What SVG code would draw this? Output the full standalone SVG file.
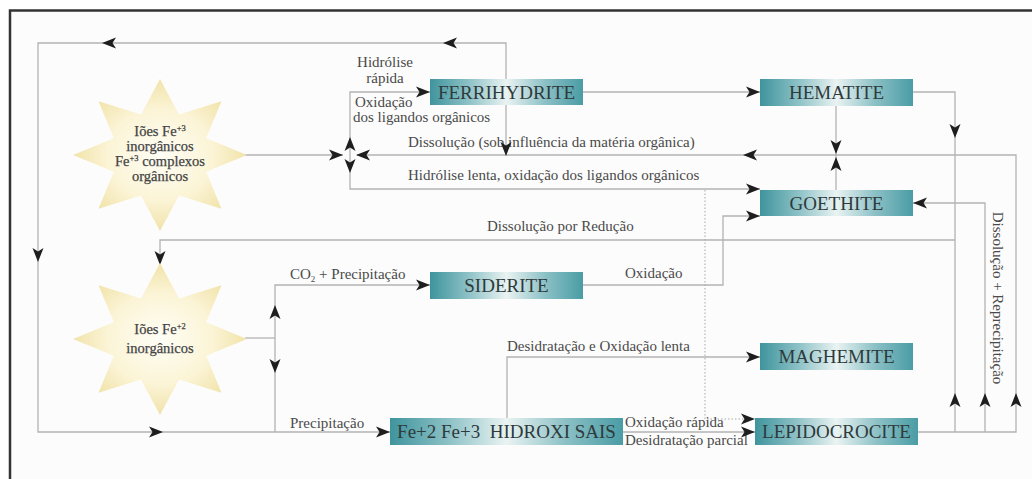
<svg xmlns="http://www.w3.org/2000/svg" xmlns:xlink="http://www.w3.org/1999/xlink" width="1032" height="479" viewBox="0 0 1032 479">
<style>
.ln{fill:none;stroke:#b3b3b3;stroke-width:1.3}
.dot{fill:none;stroke:#a8a8a8;stroke-width:1;stroke-dasharray:1.5 2}
.lbl{font-family:"Liberation Serif","Times New Roman",serif;font-size:15px;fill:#4a4a4a}
.box{stroke:none;fill:url(#boxg)}
.bt{font-family:"Liberation Serif","Times New Roman",serif;font-size:19px;fill:#2f3a3c;text-anchor:middle}
.st{font-family:"Liberation Serif","Times New Roman",serif;font-size:14.5px;fill:#444;stroke:#444;stroke-width:0.25;text-anchor:middle}
.star{fill:url(#starg)}
</style>
<defs>
<linearGradient id="boxg" x1="0" y1="0" x2="1" y2="0">
<stop offset="0" stop-color="#3f949d"/>
<stop offset="0.25" stop-color="#8cc1c6"/>
<stop offset="0.5" stop-color="#eaf3f2"/>
<stop offset="0.75" stop-color="#8cc1c6"/>
<stop offset="1" stop-color="#4a9ca5"/>
</linearGradient>
<radialGradient id="starg" cx="0.5" cy="0.5" r="0.5">
<stop offset="0" stop-color="#fffef6"/>
<stop offset="0.6" stop-color="#fbf4d6"/>
<stop offset="1" stop-color="#f1e3aa"/>
</radialGradient>
<path id="ah" d="M0,0 L-14,-5.5 L-10.5,0 L-14,5.5 Z" fill="#1e1e1e"/>
</defs>

<rect x="0" y="0" width="1032" height="479" fill="#ffffff"/>
<rect x="10" y="10.5" width="1040" height="480" fill="#fcfcfc" stroke="#333" stroke-width="2.5"/>

<g id="connectors">
<path class="ln" d="M506,155 V43 H38 V432 H390"/>
<path class="ln" d="M955,240 H160 V262"/>
<path class="ln" d="M240,155 H343"/>
<path class="ln" d="M430,92 H350 V189 H760"/>
<path class="ln" d="M357,155 H1016 V432 H918"/>
<path class="ln" d="M913,203 H985 V432"/>
<path class="ln" d="M913,92 H955 V432"/>
<path class="ln" d="M583,92 H760"/>
<path class="ln" d="M836,106 V190"/>
<path class="ln" d="M583,285 H723 V216 H760"/>
<path class="ln" d="M245,338 H275"/>
<path class="ln" d="M430,285 H275 V432"/>
<path class="ln" d="M507,418 V357 H760"/>
<path class="ln" d="M623,432 H755"/>
<path class="dot" d="M705,190 V419 H752"/>
</g>

<g id="labels">
<text class="lbl" x="385" y="67" text-anchor="middle">Hidrólise</text>
<text class="lbl" x="385" y="83" text-anchor="middle">rápida</text>
<text class="lbl" x="355" y="107">Oxidação</text>
<text class="lbl" x="353" y="122">dos ligandos orgânicos</text>
<text class="lbl" x="408" y="147">Dissolução (sob influência da matéria orgânica)</text>
<text class="lbl" x="408" y="180">Hidrólise lenta, oxidação dos ligandos orgânicos</text>
<text class="lbl" x="487" y="231">Dissolução por Redução</text>
<text class="lbl" x="290" y="279">CO<tspan font-size="9" dy="3">2</tspan><tspan dy="-3"> + Precipitação</tspan></text>
<text class="lbl" x="625" y="278">Oxidação</text>
<text class="lbl" x="507" y="351">Desidratação e Oxidação lenta</text>
<text class="lbl" x="290" y="428">Precipitação</text>
<text class="lbl" x="625" y="427">Oxidação rápida</text>
<text class="lbl" x="625" y="445">Desidratação parcial</text>
<text class="lbl" text-anchor="middle" transform="translate(993,298) rotate(90)">Dissolução + Reprecipitação</text>
</g>

<g id="arrows">
<use href="#ah" transform="translate(102,43) rotate(180)"/>
<use href="#ah" transform="translate(443,43) rotate(180)"/>
<use href="#ah" transform="translate(506,156) rotate(90)"/>
<use href="#ah" transform="translate(38,262) rotate(90)"/>
<use href="#ah" transform="translate(160,265) rotate(90)"/>
<use href="#ah" transform="translate(163,432)"/>
<use href="#ah" transform="translate(275,305) rotate(-90)"/>
<use href="#ah" transform="translate(275,373) rotate(90)"/>
<use href="#ah" transform="translate(430,285)"/>
<use href="#ah" transform="translate(390,432)"/>
<use href="#ah" transform="translate(430,92)"/>
<use href="#ah" transform="translate(343,155)"/>
<use href="#ah" transform="translate(356,155) rotate(180)"/>
<use href="#ah" transform="translate(350,137) rotate(-90)"/>
<use href="#ah" transform="translate(350,173) rotate(90)"/>
<use href="#ah" transform="translate(760,92)"/>
<use href="#ah" transform="translate(955,138) rotate(90)"/>
<use href="#ah" transform="translate(743,155) rotate(180)"/>
<use href="#ah" transform="translate(836,154) rotate(90)"/>
<use href="#ah" transform="translate(836,157) rotate(-90)"/>
<use href="#ah" transform="translate(760,189)"/>
<use href="#ah" transform="translate(760,216)"/>
<use href="#ah" transform="translate(913,203) rotate(180)"/>
<use href="#ah" transform="translate(760,357)"/>
<use href="#ah" transform="translate(755,419)"/>
<use href="#ah" transform="translate(755,432)"/>
<use href="#ah" transform="translate(955,393) rotate(-90)"/>
<use href="#ah" transform="translate(985,393) rotate(-90)"/>
<use href="#ah" transform="translate(1016,393) rotate(-90)"/>
</g>

<g id="star-fe3">
<polygon class="star" transform="translate(160,155)" points="0,-76 19.1,-40.6 61.5,-53.7 46.2,-16.8 87,0 46.2,16.8 61.5,53.7 19.1,40.6 0,76 -19.1,40.6 -61.5,53.7 -46.2,16.8 -87,0 -46.2,-16.8 -61.5,-53.7 -19.1,-40.6"/>
<text class="st" x="160" y="136">Iões Fe<tspan font-size="8.5" dy="-5">+3</tspan></text>
<text class="st" x="160" y="151">inorgânicos</text>
<text class="st" x="160" y="166">Fe<tspan font-size="8.5" dy="-5">+3</tspan><tspan dy="5"> complexos</tspan></text>
<text class="st" x="160" y="181">orgânicos</text>
</g>

<g id="star-fe2">
<polygon class="star" transform="translate(160,339)" points="0,-76 19.1,-40.6 61.5,-53.7 46.2,-16.8 87,0 46.2,16.8 61.5,53.7 19.1,40.6 0,76 -19.1,40.6 -61.5,53.7 -46.2,16.8 -87,0 -46.2,-16.8 -61.5,-53.7 -19.1,-40.6"/>
<text class="st" x="160" y="334">Iões Fe<tspan font-size="8.5" dy="-5">+2</tspan></text>
<text class="st" x="160" y="353">inorgânicos</text>
</g>

<g id="ferrihydrite"><rect class="box" x="430" y="79" width="153" height="26"/><text class="bt" x="506.5" y="99">FERRIHYDRITE</text></g>
<g id="hematite"><rect class="box" x="760" y="79" width="153" height="27"/><text class="bt" x="836.5" y="99">HEMATITE</text></g>
<g id="goethite"><rect class="box" x="760" y="190" width="153" height="26"/><text class="bt" x="836.5" y="210">GOETHITE</text></g>
<g id="siderite"><rect class="box" x="430" y="272" width="153" height="27"/><text class="bt" x="506.5" y="292">SIDERITE</text></g>
<g id="maghemite"><rect class="box" x="760" y="343" width="153" height="27"/><text class="bt" x="836.5" y="363">MAGHEMITE</text></g>
<g id="lepidocrocite"><rect class="box" x="755" y="418" width="163" height="27"/><text class="bt" x="836.5" y="438">LEPIDOCROCITE</text></g>
<g id="hidroxi-sais"><rect class="box" x="390" y="418" width="233" height="27"/><text class="bt" x="506.5" y="438" xml:space="preserve">Fe+2 Fe+3  HIDROXI SAIS</text></g>
</svg>
